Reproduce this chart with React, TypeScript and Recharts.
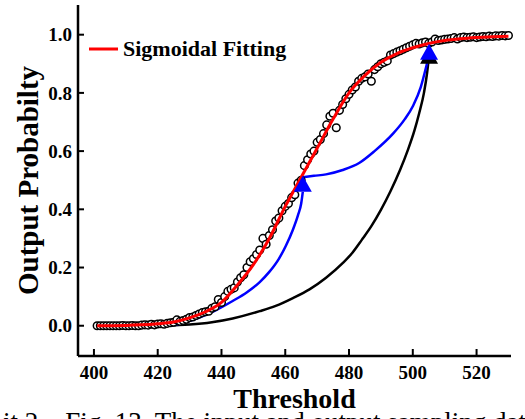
import {
  ComposedChart, Line, Scatter, XAxis, YAxis, Label,
} from 'recharts';

// threshold sweep, one measurement per step
const thresholds = Array.from({ length: 130 }, (_, i) => 401 + i);
const measured = [
  0, 0, 0, 0, 0, 0, 0, 0, 0.001, 0,
  0, 0.001, 0, 0, 0.002, 0.003, 0.002, 0.005, 0.003, 0.006,
  0.007, 0.005, 0.008, 0.01, 0.012, 0.02, 0.015, 0.018, 0.022, 0.028,
  0.03, 0.035, 0.04, 0.045, 0.048, 0.05, 0.06, 0.065, 0.09, 0.08,
  0.1, 0.118, 0.125, 0.13, 0.15, 0.165, 0.175, 0.2, 0.22, 0.23,
  0.245, 0.26, 0.3, 0.28, 0.31, 0.33, 0.36, 0.37, 0.395, 0.41,
  0.42, 0.44, 0.45, 0.49, 0.5, 0.55, 0.57, 0.59, 0.6, 0.63,
  0.64, 0.66, 0.69, 0.72, 0.73, 0.68, 0.74, 0.76, 0.78, 0.795,
  0.81, 0.82, 0.84, 0.85, 0.855, 0.865, 0.84, 0.88, 0.89, 0.9,
  0.905, 0.91, 0.93, 0.935, 0.94, 0.945, 0.95, 0.955, 0.96, 0.965,
  0.97, 0.968, 0.972, 0.975, 0.97, 0.975, 0.985, 0.98, 0.982, 0.984,
  0.985, 0.987, 0.99, 0.985, 0.99, 0.992, 0.99, 0.991, 0.993, 0.99,
  0.992, 0.994, 0.993, 0.995, 0.994, 0.996, 0.995, 0.997, 0.996, 0.997,
];

// sigmoidal fit
const fitX = [401, 410, 415, 420, 425, 430, 435, 440, 445, 450, 455, 460, 465, 470, 475, 480, 485, 490, 495, 500, 505, 510, 515, 520, 525, 530];
const fitY = [0, 0.001, 0.003, 0.007, 0.013, 0.027, 0.048, 0.08, 0.14, 0.21, 0.3, 0.41, 0.51, 0.61, 0.71, 0.8, 0.86, 0.905, 0.935, 0.955, 0.97, 0.98, 0.986, 0.99, 0.993, 0.995];

// annotation curves
const blue1X = [420, 426, 433, 438, 443.5, 448, 452, 455, 458, 460.2, 462.4, 464, 465, 465.5];
const blue1Y = [0, 0.005, 0.028, 0.052, 0.085, 0.115, 0.15, 0.185, 0.23, 0.275, 0.33, 0.38, 0.42, 0.46];
const blue2X = [465.5, 469, 472.8, 478, 483.3, 488, 493.8, 497.5, 500.1, 502.5, 504.3, 505.1];
const blue2Y = [0.51, 0.515, 0.52, 0.535, 0.56, 0.6, 0.66, 0.71, 0.756, 0.82, 0.894, 0.93];
const blackX = [422, 430, 437, 443.5, 452, 457, 462.4, 467.6, 472.8, 478, 481, 484, 487, 490, 493, 496, 498.5, 500.5, 502, 503.5, 504.5, 505.1];
const blackY = [0, 0.004, 0.012, 0.025, 0.05, 0.068, 0.095, 0.125, 0.165, 0.215, 0.25, 0.295, 0.342, 0.398, 0.462, 0.535, 0.605, 0.67, 0.73, 0.8, 0.87, 0.93];

// arrow tips
const blueTips = [{ x: 465.5, y: 0.515 }, { x: 505.1, y: 0.969 }];
const blackTips = [{ x: 505.1, y: 0.955 }];

const xTicks = [400, 420, 440, 460, 480, 500, 520];
const yTicks = [0, 0.2, 0.4, 0.6, 0.8, 1.0];

const zip = (xs: number[], ys: number[]) => xs.map((x, i) => ({ x, y: ys[i] }));
const points = zip(thresholds, measured);
const fit = zip(fitX, fitY);
const blue1 = zip(blue1X, blue1Y);
const blue2 = zip(blue2X, blue2Y);
const black = zip(blackX, blackY);

const FONT = '"Liberation Serif", "Times New Roman", serif';
const tickStyle = { fontFamily: FONT, fontSize: 19, fontWeight: 700, fill: '#000' };

const Ring = (p: any) => (
  <circle cx={p.cx} cy={p.cy} r={3.8} fill="#fff" stroke="#000" strokeWidth={1.5} />
);
const arrowHead = (color: string) => (p: any) => (
  <polygon
    points={`${p.cx},${p.cy} ${p.cx - 9},${p.cy + 16} ${p.cx + 9},${p.cy + 16}`}
    fill={color}
  />
);

const App = () => {
  return (
    <div style={{ position: 'absolute', left: 0, top: 0, width: 525, height: 419, overflow: 'hidden', background: '#fff' }}>
      <ComposedChart width={525} height={419} margin={{ top: 5, right: 14, bottom: 0, left: 0 }}>
        <XAxis
          xAxisId="b" dataKey="x" type="number" domain={[395, 530.8]} ticks={xTicks}
          height={63} tickSize={-7} tickMargin={17} tick={tickStyle}
          axisLine={{ stroke: '#000', strokeWidth: 2.5 }} tickLine={{ stroke: '#000', strokeWidth: 2 }}
        >
          <Label value="Threshold" position="insideBottom" offset={11}
            style={{ fontFamily: FONT, fontSize: 28, fontWeight: 700, fill: '#000' }} />
        </XAxis>
        <XAxis
          xAxisId="t" orientation="top" dataKey="x" type="number" domain={[395, 530.8]} ticks={xTicks}
          height={0} tickSize={-7} tick={false}
          axisLine={{ stroke: '#000', strokeWidth: 2.5 }} tickLine={{ stroke: '#000', strokeWidth: 2 }}
        />
        <YAxis
          yAxisId="l" type="number" domain={[-0.104, 1.102]} ticks={yTicks}
          width={78} tickSize={-6} tickMargin={12} tick={tickStyle}
          tickFormatter={(v: number) => v.toFixed(1)}
          axisLine={{ stroke: '#000', strokeWidth: 2.5 }} tickLine={{ stroke: '#000', strokeWidth: 2 }}
        >
          <Label value="Output Probabilty" angle={-90} position="insideLeft" offset={28}
            style={{ fontFamily: FONT, fontSize: 29, fontWeight: 700, fill: '#000', textAnchor: 'middle' }} />
        </YAxis>
        <YAxis
          yAxisId="r" orientation="right" type="number" domain={[-0.104, 1.102]} ticks={yTicks}
          width={0} tickSize={-6} tick={false}
          axisLine={{ stroke: '#000', strokeWidth: 2.5 }} tickLine={{ stroke: '#000', strokeWidth: 2 }}
        />
        <Line xAxisId="b" yAxisId="l" data={black} dataKey="y" type="monotone" stroke="#000" strokeWidth={2.5} dot={false} isAnimationActive={false} zIndex={300} />
        <Line xAxisId="b" yAxisId="l" data={blue1} dataKey="y" type="monotone" stroke="#00f" strokeWidth={2.5} dot={false} isAnimationActive={false} zIndex={300} />
        <Line xAxisId="b" yAxisId="l" data={blue2} dataKey="y" type="monotone" stroke="#00f" strokeWidth={2.5} dot={false} isAnimationActive={false} zIndex={300} />
        <Scatter xAxisId="b" yAxisId="l" data={points} dataKey="y" shape={Ring} isAnimationActive={false} zIndex={350} />
        <Line xAxisId="b" yAxisId="l" data={fit} dataKey="y" type="monotone" stroke="#f00" strokeWidth={3} dot={false} isAnimationActive={false} zIndex={400} />
        <Scatter xAxisId="b" yAxisId="l" data={blackTips} dataKey="y" shape={arrowHead('#000')} isAnimationActive={false} zIndex={600} />
        <Scatter xAxisId="b" yAxisId="l" data={blueTips} dataKey="y" shape={arrowHead('#00f')} isAnimationActive={false} zIndex={610} />
      </ComposedChart>
      <div style={{ position: 'absolute', left: 89, top: 36, display: 'flex', alignItems: 'center', fontFamily: FONT, fontWeight: 700, fontSize: 22 }}>
        <svg width={30} height={6}><line x1={0} y1={3} x2={29} y2={3} stroke="#f00" strokeWidth={3} /></svg>
        <span style={{ marginLeft: 4 }}>Sigmoidal Fitting</span>
      </div>
      <div style={{ position: 'absolute', left: 3, top: 409, lineHeight: 1, fontFamily: FONT, fontSize: 27, whiteSpace: 'nowrap', color: '#000' }}>
        it 2.&nbsp;&nbsp;&nbsp;Fig. 13. The input and output sampling data
      </div>
    </div>
  );
};

export default App;
